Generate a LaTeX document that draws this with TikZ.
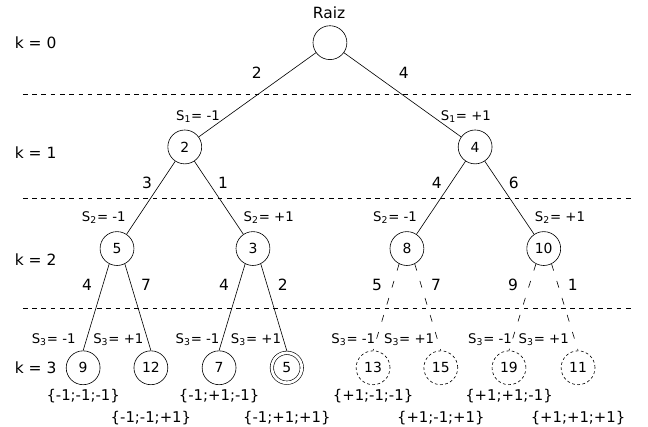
\documentclass[tikz,border=0pt]{standalone}
\usepackage{fontspec}
\setmainfont{DejaVu Sans}
\usetikzlibrary{positioning}

\begin{document}
\begin{tikzpicture}[
  nodo/.style={circle,draw,minimum size=0.77cm,inner sep=0pt,font=\small},
  podado/.style={nodo,dash pattern=on 1.8pt off 1.6pt},
  rotulo/.style={font=\fontsize{8.6}{10}\selectfont,inner sep=0pt},
  seq/.style={font=\fontsize{9.6}{11}\selectfont,inner sep=0pt},
  peso/.style={inner sep=0pt},
  corte/.style={dash pattern=on 4.5pt off 7pt}]
  \useasboundingbox (0,0) rectangle (14.73,9.70);
  % levels k
  \node[peso,anchor=west] (k0) at (0.33,8.73) {k = 0};
  \node[peso,anchor=west] (k1) at (0.33,6.23) {k = 1};
  \node[peso,anchor=west] (k2) at (0.33,3.80) {k = 2};
  \node[peso,anchor=west] (k3) at (0.33,1.34) {k = 3};
  \draw[dashed] (0.52,7.55) -- (14.43,7.55);
  \draw[dashed] (0.52,5.20) -- (14.43,5.20);
  \draw[dashed] (0.52,2.70) -- (14.43,2.70);
  % root
  \node[nodo] (raiz) at (7.50,8.73) {};
  \node[peso] (raiztxt) at (7.48,9.41) {Raiz};
  % k = 1
  \node[nodo] (n2) at (4.20,6.36) {2};
  \node[nodo] (n4) at (10.80,6.36) {4};
  \draw (raiz) -- (n2);
  \draw (raiz) -- (n4);
  \node[peso] (p2) at (5.84,8.05) {2};
  \node[peso] (p4) at (9.18,8.05) {4};
  \node[rotulo] (s1a) at (4.50,7.05) {S\textsubscript{1}= -1};
  \node[rotulo] (s1b) at (10.59,7.05) {S\textsubscript{1}= +1};
  % k = 2
  \node[nodo] (n5) at (2.66,4.05) {5};
  \node[nodo] (n3) at (5.75,4.05) {3};
  \node[nodo] (n8) at (9.25,4.05) {8};
  \node[nodo] (n10) at (12.36,4.05) {10};
  \draw (n2) -- (n5);
  \draw (n2) -- (n3);
  \draw (n4) -- (n8);
  \draw (n4) -- (n10);
  \node[peso] (p3) at (3.34,5.55) {3};
  \node[peso] (p1) at (5.07,5.55) {1};
  \node[peso] (p4b) at (9.93,5.55) {4};
  \node[peso] (p6) at (11.68,5.55) {6};
  \node[rotulo] (s2a) at (2.36,4.75) {S\textsubscript{2}= -1};
  \node[rotulo] (s2b) at (6.11,4.75) {S\textsubscript{2}= +1};
  \node[rotulo] (s2c) at (8.98,4.75) {S\textsubscript{2}= -1};
  \node[rotulo] (s2d) at (12.73,4.75) {S\textsubscript{2}= +1};
  % k = 3
  \node[nodo] (n9) at (1.89,1.34) {9};
  \node[nodo] (n12) at (3.43,1.34) {12};
  \node[nodo] (n7) at (4.98,1.34) {7};
  \node[nodo,double,double distance=1.8pt,minimum size=0.68cm,outer sep=1.3pt] (n5b) at (6.52,1.34) {5};
  \node[podado] (n13) at (8.48,1.34) {13};
  \node[podado] (n15) at (10.02,1.34) {15};
  \node[podado] (n19) at (11.57,1.34) {19};
  \node[podado] (n11) at (13.14,1.34) {11};
  \draw (n5.243) -- (n9.north);
  \draw (n5.297) -- (n12.north);
  \draw (n3.243) -- (n7.north);
  \draw (n3.297) -- (n5b.north);
  \draw[corte] (n8.243) -- (n13.north);
  \draw[corte] (n8.297) -- (n15.north);
  \draw[corte] (n10.243) -- (n19.north);
  \draw[corte] (n10.297) -- (n11.north);
  \node[peso] (p4c) at (1.98,3.23) {4};
  \node[peso] (p7) at (3.32,3.23) {7};
  \node[peso] (p4d) at (5.09,3.23) {4};
  \node[peso] (p2b) at (6.43,3.23) {2};
  \node[peso] (p5) at (8.57,3.23) {5};
  \node[peso] (p7b) at (9.91,3.23) {7};
  \node[peso] (p9) at (11.66,3.23) {9};
  \node[peso] (p1b) at (13.02,3.23) {1};
  \node[rotulo] (s3a) at (1.22,1.98) {S\textsubscript{3}= -1};
  \node[rotulo] (s3b) at (2.69,1.98) {S\textsubscript{3}= +1};
  \node[rotulo] (s3c) at (4.49,1.98) {S\textsubscript{3}= -1};
  \node[rotulo] (s3d) at (5.82,1.98) {S\textsubscript{3}= +1};
  \node[rotulo] (s3e) at (8.03,1.98) {S\textsubscript{3}= -1};
  \node[rotulo] (s3f) at (9.30,1.98) {S\textsubscript{3}= +1};
  \node[rotulo] (s3g) at (11.14,1.98) {S\textsubscript{3}= -1};
  \node[rotulo] (s3h) at (12.36,1.98) {S\textsubscript{3}= +1};
  % sequences
  \node[seq] (c9) at (1.89,0.70) {\{-1;-1;-1\}};
  \node[seq] (c12) at (3.43,0.20) {\{-1;-1;+1\}};
  \node[seq] (c7) at (4.98,0.70) {\{-1;+1;-1\}};
  \node[seq] (c5) at (6.52,0.20) {\{-1;+1;+1\}};
  \node[seq] (c13) at (8.48,0.70) {\{+1;-1;-1\}};
  \node[seq] (c15) at (10.02,0.20) {\{+1;-1;+1\}};
  \node[seq] (c19) at (11.57,0.70) {\{+1;+1;-1\}};
  \node[seq] (c11) at (13.14,0.20) {\{+1;+1;+1\}};
\end{tikzpicture}
\end{document}
